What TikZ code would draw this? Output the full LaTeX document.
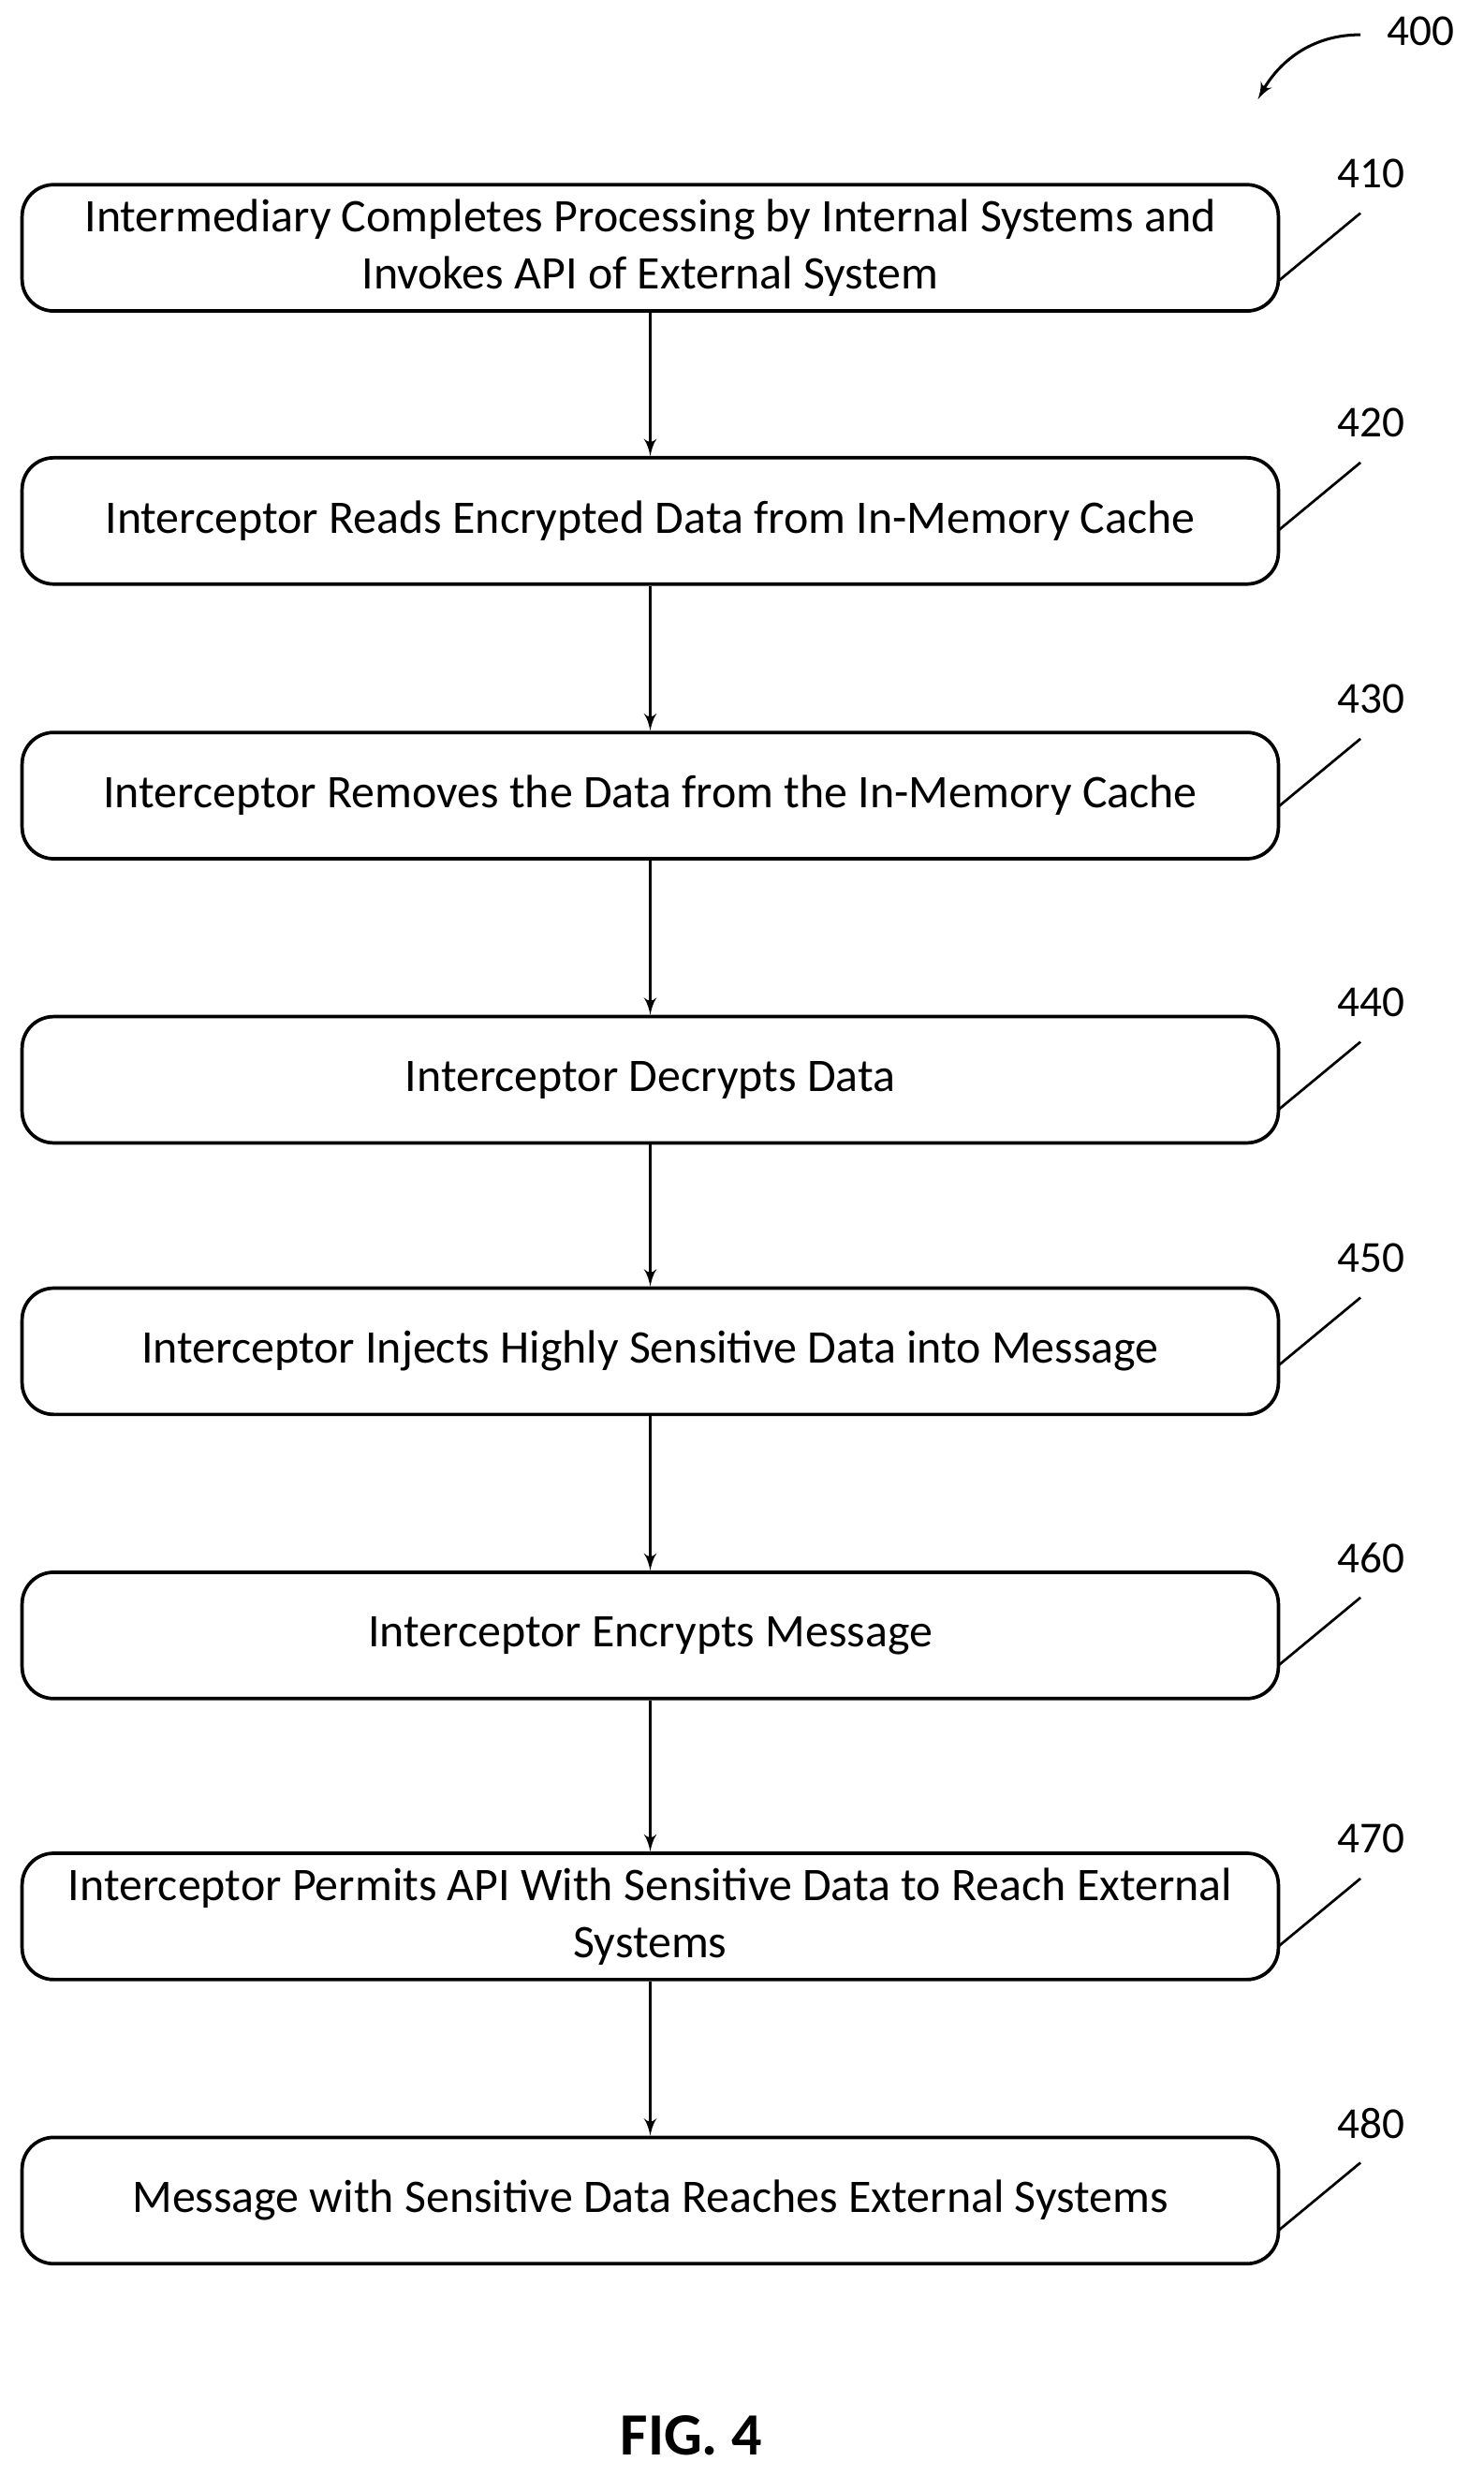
\documentclass[tikz,border=0pt]{standalone}
\usepackage{fontspec}
\setmainfont{Carlito}
\usetikzlibrary{arrows}
\begin{document}
\begin{tikzpicture}
    [
      x=0.5pt,y=-0.5pt,
      stage/.style={draw=black,line width=1.1pt,rectangle,rounded corners=10pt,
        minimum width=398pt,minimum height=40pt,align=center,font=\fontsize{14.8}{18}\selectfont},
      flow/.style={-latex',line width=0.9pt,draw=black,>=latex'},
      refnum/.style={font=\fontsize{14}{16}\selectfont},
      lead/.style={line width=0.8pt,draw=black}
    ]
    \useasboundingbox (0,0) rectangle (940,1578);

    \node at (412,157) [stage] (s410) {Intermediary Completes Processing by Internal Systems and\\Invokes API of External System};
    \node at (412,330) [stage] (s420) {Interceptor Reads Encrypted Data from In-Memory Cache};
    \node at (412,504) [stage] (s430) {Interceptor Removes the Data from the In-Memory Cache};
    \node at (412,684) [stage] (s440) {Interceptor Decrypts Data};
    \node at (412,856) [stage] (s450) {Interceptor Injects Highly Sensitive Data into Message};
    \node at (412,1036) [stage] (s460) {Interceptor Encrypts Message};
    \node at (412,1214) [stage] (s470) {Interceptor Permits API With Sensitive Data to Reach External\\Systems};
    \node at (412,1394) [stage] (s480) {Message with Sensitive Data Reaches External Systems};

    \draw [flow] (s410) -- (s420);
    \draw [flow] (s420) -- (s430);
    \draw [flow] (s430) -- (s440);
    \draw [flow] (s440) -- (s450);
    \draw [flow] (s450) -- (s460);
    \draw [flow] (s460) -- (s470);
    \draw [flow] (s470) -- (s480);

    % reference numerals
    \foreach \n/\y in {410/110,420/268,430/443,440/635,450/797,460/987,470/1165,480/1345} {
      \node at (869,\y) [refnum] (l\n) {\n};
      \coordinate (t\n) at (862,\y+25);
      \coordinate (b\n) at (810,\y+68);
      \draw [lead] (t\n) -- (b\n);
    }

    \node at (900,20) [refnum] (l400) {400};
    \coordinate (a400) at (862,22);
    \coordinate (h400) at (797,63);
    \draw [-latex',line width=0.9pt] (a400) .. controls (830,22) and (810,40) .. (h400);

    \node at (438,1543) [font=\bfseries\fontsize{19}{22}\selectfont] (fig) {FIG. 4};
  \end{tikzpicture}
\end{document}
